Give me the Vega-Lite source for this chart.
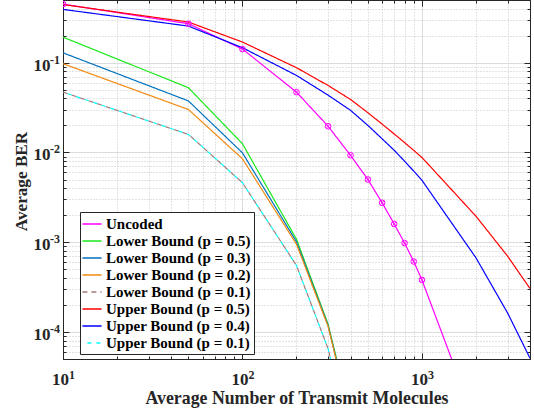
{
  "$schema": "https://vega.github.io/schema/vega-lite/v6.json",
  "width": 467,
  "height": 359,
  "autosize": {"type": "none"},
  "padding": {"left": 63, "top": 0, "right": 4, "bottom": 53},
  "background": "white",
  "config": {
    "font": "Liberation Serif",
    "view": {"stroke": "#262626", "strokeWidth": 1}
  },
  "resolve": {"axis": {"x": "independent", "y": "independent"}},
  "data": {
    "values": [
      {"series": "Uncoded", "n": 10, "ber": 0.45},
      {"series": "Uncoded", "n": 50, "ber": 0.272},
      {"series": "Uncoded", "n": 100, "ber": 0.142},
      {"series": "Uncoded", "n": 200, "ber": 0.047},
      {"series": "Uncoded", "n": 300, "ber": 0.0196},
      {"series": "Uncoded", "n": 400, "ber": 0.0093},
      {"series": "Uncoded", "n": 500, "ber": 0.005},
      {"series": "Uncoded", "n": 600, "ber": 0.00275},
      {"series": "Uncoded", "n": 700, "ber": 0.0016},
      {"series": "Uncoded", "n": 800, "ber": 0.00098},
      {"series": "Uncoded", "n": 900, "ber": 0.00061},
      {"series": "Uncoded", "n": 1000, "ber": 0.00038},
      {"series": "Uncoded", "n": 2000, "ber": 0.0000095},

      {"series": "Lower Bound (p = 0.5)", "n": 10, "ber": 0.193},
      {"series": "Lower Bound (p = 0.5)", "n": 50, "ber": 0.0526},
      {"series": "Lower Bound (p = 0.5)", "n": 100, "ber": 0.0125},
      {"series": "Lower Bound (p = 0.5)", "n": 200, "ber": 0.00108},
      {"series": "Lower Bound (p = 0.5)", "n": 300, "ber": 0.000122},
      {"series": "Lower Bound (p = 0.5)", "n": 400, "ber": 0.0000115},

      {"series": "Lower Bound (p = 0.3)", "n": 10, "ber": 0.129},
      {"series": "Lower Bound (p = 0.3)", "n": 50, "ber": 0.0375},
      {"series": "Lower Bound (p = 0.3)", "n": 100, "ber": 0.0099},
      {"series": "Lower Bound (p = 0.3)", "n": 200, "ber": 0.00101},
      {"series": "Lower Bound (p = 0.3)", "n": 300, "ber": 0.000118},
      {"series": "Lower Bound (p = 0.3)", "n": 400, "ber": 0.000011},

      {"series": "Lower Bound (p = 0.2)", "n": 10, "ber": 0.0975},
      {"series": "Lower Bound (p = 0.2)", "n": 50, "ber": 0.0301},
      {"series": "Lower Bound (p = 0.2)", "n": 100, "ber": 0.0085},
      {"series": "Lower Bound (p = 0.2)", "n": 200, "ber": 0.00095},
      {"series": "Lower Bound (p = 0.2)", "n": 300, "ber": 0.000115},
      {"series": "Lower Bound (p = 0.2)", "n": 400, "ber": 0.0000108},

      {"series": "Lower Bound (p = 0.1)", "n": 10, "ber": 0.047},
      {"series": "Lower Bound (p = 0.1)", "n": 50, "ber": 0.0159},
      {"series": "Lower Bound (p = 0.1)", "n": 100, "ber": 0.0046},
      {"series": "Lower Bound (p = 0.1)", "n": 200, "ber": 0.00055},
      {"series": "Lower Bound (p = 0.1)", "n": 300, "ber": 0.000065},
      {"series": "Lower Bound (p = 0.1)", "n": 400, "ber": 0.000006},

      {"series": "Upper Bound (p = 0.5)", "n": 10, "ber": 0.445},
      {"series": "Upper Bound (p = 0.5)", "n": 50, "ber": 0.284},
      {"series": "Upper Bound (p = 0.5)", "n": 100, "ber": 0.17},
      {"series": "Upper Bound (p = 0.5)", "n": 200, "ber": 0.088},
      {"series": "Upper Bound (p = 0.5)", "n": 300, "ber": 0.0558},
      {"series": "Upper Bound (p = 0.5)", "n": 400, "ber": 0.039},
      {"series": "Upper Bound (p = 0.5)", "n": 500, "ber": 0.0277},
      {"series": "Upper Bound (p = 0.5)", "n": 600, "ber": 0.0207},
      {"series": "Upper Bound (p = 0.5)", "n": 700, "ber": 0.0161},
      {"series": "Upper Bound (p = 0.5)", "n": 800, "ber": 0.0129},
      {"series": "Upper Bound (p = 0.5)", "n": 900, "ber": 0.01056},
      {"series": "Upper Bound (p = 0.5)", "n": 1000, "ber": 0.0088},
      {"series": "Upper Bound (p = 0.5)", "n": 2000, "ber": 0.00195},
      {"series": "Upper Bound (p = 0.5)", "n": 3000, "ber": 0.0007},
      {"series": "Upper Bound (p = 0.5)", "n": 4000, "ber": 0.000305},

      {"series": "Upper Bound (p = 0.4)", "n": 10, "ber": 0.393},
      {"series": "Upper Bound (p = 0.4)", "n": 50, "ber": 0.256},
      {"series": "Upper Bound (p = 0.4)", "n": 100, "ber": 0.147},
      {"series": "Upper Bound (p = 0.4)", "n": 200, "ber": 0.0722},
      {"series": "Upper Bound (p = 0.4)", "n": 300, "ber": 0.0435},
      {"series": "Upper Bound (p = 0.4)", "n": 400, "ber": 0.0295},
      {"series": "Upper Bound (p = 0.4)", "n": 500, "ber": 0.02},
      {"series": "Upper Bound (p = 0.4)", "n": 600, "ber": 0.0142},
      {"series": "Upper Bound (p = 0.4)", "n": 700, "ber": 0.0106},
      {"series": "Upper Bound (p = 0.4)", "n": 800, "ber": 0.008},
      {"series": "Upper Bound (p = 0.4)", "n": 900, "ber": 0.0062},
      {"series": "Upper Bound (p = 0.4)", "n": 1000, "ber": 0.0049},
      {"series": "Upper Bound (p = 0.4)", "n": 2000, "ber": 0.00067},
      {"series": "Upper Bound (p = 0.4)", "n": 3000, "ber": 0.000163},
      {"series": "Upper Bound (p = 0.4)", "n": 4000, "ber": 0.000051},

      {"series": "Upper Bound (p = 0.1)", "n": 10, "ber": 0.047},
      {"series": "Upper Bound (p = 0.1)", "n": 50, "ber": 0.0159},
      {"series": "Upper Bound (p = 0.1)", "n": 100, "ber": 0.0046},
      {"series": "Upper Bound (p = 0.1)", "n": 200, "ber": 0.00055},
      {"series": "Upper Bound (p = 0.1)", "n": 300, "ber": 0.000065},
      {"series": "Upper Bound (p = 0.1)", "n": 400, "ber": 0.000006}
    ]
  },
  "layer": [
    {
      "transform": [{"filter": "datum.series != 'Upper Bound (p = 0.1)'"}],
      "mark": {"type": "line", "clip": true, "strokeWidth": 1.2},
      "encoding": {
        "x": {
          "field": "n", "type": "quantitative",
          "scale": {"type": "log", "domain": [10, 4000], "nice": false},
          "axis": {
            "orient": "bottom",
            "values": [10,20,30,40,50,60,70,80,90,100,200,300,400,500,600,700,800,900,1000,2000,3000,4000],
            "labels": false,
            "title": "Average Number of Transmit Molecules",
            "titleFont": "Liberation Serif", "titleFontSize": 17.8, "titleFontWeight": "bold", "titleColor": "#262626",
            "titleBaseline": "alphabetic", "titleY": 44,
            "grid": true,
            "gridColor": {"condition": {"test": "datum.value == 10 || datum.value == 100 || datum.value == 1000", "value": "#DCDCDC"}, "value": "#C6C6C6"},
            "gridDash": {"condition": {"test": "datum.value == 10 || datum.value == 100 || datum.value == 1000", "value": []}, "value": [1, 2]},
            "gridWidth": 1,
            "tickSize": {"condition": {"test": "datum.value == 10 || datum.value == 100 || datum.value == 1000", "value": -6}, "value": -3},
            "tickColor": "#262626",
            "domainColor": "#262626"
          }
        },
        "y": {
          "field": "ber", "type": "quantitative",
          "scale": {"type": "log", "domain": [0.00005, 0.5], "nice": false},
          "axis": {
            "orient": "left",
            "values": [0.00005,0.00006,0.00007,0.00008,0.00009,0.0001,0.0002,0.0003,0.0004,0.0005,0.0006,0.0007,0.0008,0.0009,0.001,0.002,0.003,0.004,0.005,0.006,0.007,0.008,0.009,0.01,0.02,0.03,0.04,0.05,0.06,0.07,0.08,0.09,0.1,0.2,0.3,0.4,0.5],
            "labels": false,
            "title": "Average BER",
            "titleFont": "Liberation Serif", "titleFontSize": 17.2, "titleFontWeight": "bold", "titleColor": "#262626",
            "titleBaseline": "alphabetic", "titleX": -36.8, "titleY": 181,
            "grid": true,
            "gridColor": {"condition": {"test": "datum.value == 0.1 || datum.value == 0.01 || datum.value == 0.001 || datum.value == 0.0001", "value": "#DCDCDC"}, "value": "#C6C6C6"},
            "gridDash": {"condition": {"test": "datum.value == 0.1 || datum.value == 0.01 || datum.value == 0.001 || datum.value == 0.0001", "value": []}, "value": [1, 2]},
            "gridWidth": 1,
            "tickSize": {"condition": {"test": "datum.value == 0.1 || datum.value == 0.01 || datum.value == 0.001 || datum.value == 0.0001", "value": -6}, "value": -3},
            "tickColor": "#262626",
            "domainColor": "#262626"
          }
        },
        "color": {
          "field": "series", "type": "nominal",
          "scale": {
            "domain": ["Uncoded", "Lower Bound (p = 0.5)", "Lower Bound (p = 0.3)", "Lower Bound (p = 0.2)", "Lower Bound (p = 0.1)", "Upper Bound (p = 0.5)", "Upper Bound (p = 0.4)", "Upper Bound (p = 0.1)"],
            "range": ["#FF00FF", "#1AE81A", "#0072BD", "#F08A12", "#A07C7C", "#FF0000", "#0000FF", "#00FFFF"]
          },
          "legend": {
            "title": null, "orient": "none", "legendX": 17, "legendY": 212,
            "fillColor": "white", "strokeColor": "#262626", "padding": 3,
            "labelFont": "Liberation Serif", "labelFontWeight": "bold", "labelFontSize": 15, "labelColor": "black",
            "symbolType": "M-1.2,0H1.2", "symbolSize": 256, "symbolStrokeWidth": 1.5, "rowPadding": 0, "labelOffset": 5
          }
        },
        "strokeDash": {
          "field": "series", "type": "nominal",
          "scale": {
            "domain": ["Uncoded", "Lower Bound (p = 0.5)", "Lower Bound (p = 0.3)", "Lower Bound (p = 0.2)", "Lower Bound (p = 0.1)", "Upper Bound (p = 0.5)", "Upper Bound (p = 0.4)", "Upper Bound (p = 0.1)"],
            "range": [[1, 0], [1, 0], [1, 0], [1, 0], [5, 4], [1, 0], [1, 0], [0, 5, 4, 0]]
          },
          "legend": {
            "title": null, "orient": "none", "legendX": 17, "legendY": 212,
            "fillColor": "white", "strokeColor": "#262626", "padding": 3,
            "labelFont": "Liberation Serif", "labelFontWeight": "bold", "labelFontSize": 15, "labelColor": "black",
            "symbolType": "M-1.2,0H1.2", "symbolSize": 256, "symbolStrokeWidth": 1.5, "rowPadding": 0, "labelOffset": 5
          }
        }
      }
    },
    {
      "transform": [{"filter": "datum.series == 'Upper Bound (p = 0.1)'"}],
      "mark": {"type": "line", "clip": true, "strokeWidth": 1.2},
      "encoding": {
        "x": {"field": "n", "type": "quantitative",
          "axis": {"orient": "bottom", "values": [10, 100, 1000],
            "labelExpr": "'10'", "ticks": false, "domain": false, "grid": false, "title": null,
            "labelFont": "Liberation Serif", "labelFontSize": 17, "labelFontWeight": "bold", "labelColor": "#262626",
            "labelAlign": "center", "labelBaseline": "alphabetic", "labelOffset": -3, "labelPadding": 25,
            "labelFlush": false, "labelOverlap": false}},
        "y": {"field": "ber", "type": "quantitative",
          "axis": {"orient": "left", "values": [0.0001, 0.001, 0.01, 0.1],
            "labelExpr": "'10'", "ticks": false, "domain": false, "grid": false, "title": null,
            "labelFont": "Liberation Serif", "labelFontSize": 17, "labelFontWeight": "bold", "labelColor": "#262626",
            "labelAlign": "right", "labelBaseline": "alphabetic", "labelOffset": 7.5, "labelPadding": 13,
            "labelFlush": false, "labelOverlap": false}},
        "color": {"field": "series", "type": "nominal"},
        "strokeDash": {"field": "series", "type": "nominal"}
      }
    },
    {
      "transform": [{"filter": "datum.series == 'Uncoded'"}],
      "mark": {"type": "point", "shape": "circle", "filled": false, "size": 32, "clip": true, "color": "#FF00FF", "strokeWidth": 1, "opacity": 1},
      "encoding": {
        "x": {"field": "n", "type": "quantitative",
          "axis": {"orient": "top", "values": [10,20,30,40,50,60,70,80,90,100,200,300,400,500,600,700,800,900,1000,2000,3000,4000], "labels": false, "title": null, "grid": false,
            "tickSize": {"condition": {"test": "datum.value == 10 || datum.value == 100 || datum.value == 1000", "value": -6}, "value": -3},
            "tickColor": "#262626", "domainColor": "#262626"}},
        "y": {"field": "ber", "type": "quantitative",
          "axis": {"orient": "right", "values": [0.00005,0.00006,0.00007,0.00008,0.00009,0.0001,0.0002,0.0003,0.0004,0.0005,0.0006,0.0007,0.0008,0.0009,0.001,0.002,0.003,0.004,0.005,0.006,0.007,0.008,0.009,0.01,0.02,0.03,0.04,0.05,0.06,0.07,0.08,0.09,0.1,0.2,0.3,0.4,0.5], "labels": false, "title": null, "grid": false,
            "tickSize": {"condition": {"test": "datum.value == 0.1 || datum.value == 0.01 || datum.value == 0.001 || datum.value == 0.0001", "value": -6}, "value": -3},
            "tickColor": "#262626", "domainColor": "#262626"}}
      }
    },
    {
      "transform": [{"filter": "datum.series == 'Uncoded'"}],
      "mark": {"type": "point", "shape": "M-0.7,-0.7L0.7,0.7M-0.7,0.7L0.7,-0.7", "filled": false, "size": 32, "clip": true, "color": "#FF00FF", "strokeWidth": 0.8, "opacity": 1},
      "encoding": {
        "x": {"field": "n", "type": "quantitative",
          "axis": {"orient": "bottom", "values": [10, 100, 1000],
            "labelExpr": "datum.value == 10 ? '1' : datum.value == 100 ? '2' : '3'", "ticks": false, "domain": false, "grid": false, "title": null,
            "labelFont": "Liberation Serif", "labelFontSize": 12, "labelFontWeight": "bold", "labelColor": "#262626",
            "labelAlign": "left", "labelBaseline": "alphabetic", "labelOffset": 5.5, "labelPadding": 19,
            "labelFlush": false, "labelOverlap": false}},
        "y": {"field": "ber", "type": "quantitative",
          "axis": {"orient": "left", "values": [0.0001, 0.001, 0.01, 0.1],
            "labelExpr": "datum.value == 0.1 ? '-1' : datum.value == 0.01 ? '-2' : datum.value == 0.001 ? '-3' : '-4'", "ticks": false, "domain": false, "grid": false, "title": null,
            "labelFont": "Liberation Serif", "labelFontSize": 12, "labelFontWeight": "bold", "labelColor": "#262626",
            "labelAlign": "right", "labelBaseline": "alphabetic", "labelOffset": 0.5, "labelPadding": 3.5,
            "labelFlush": false, "labelOverlap": false}}
      }
    }
  ]
}
